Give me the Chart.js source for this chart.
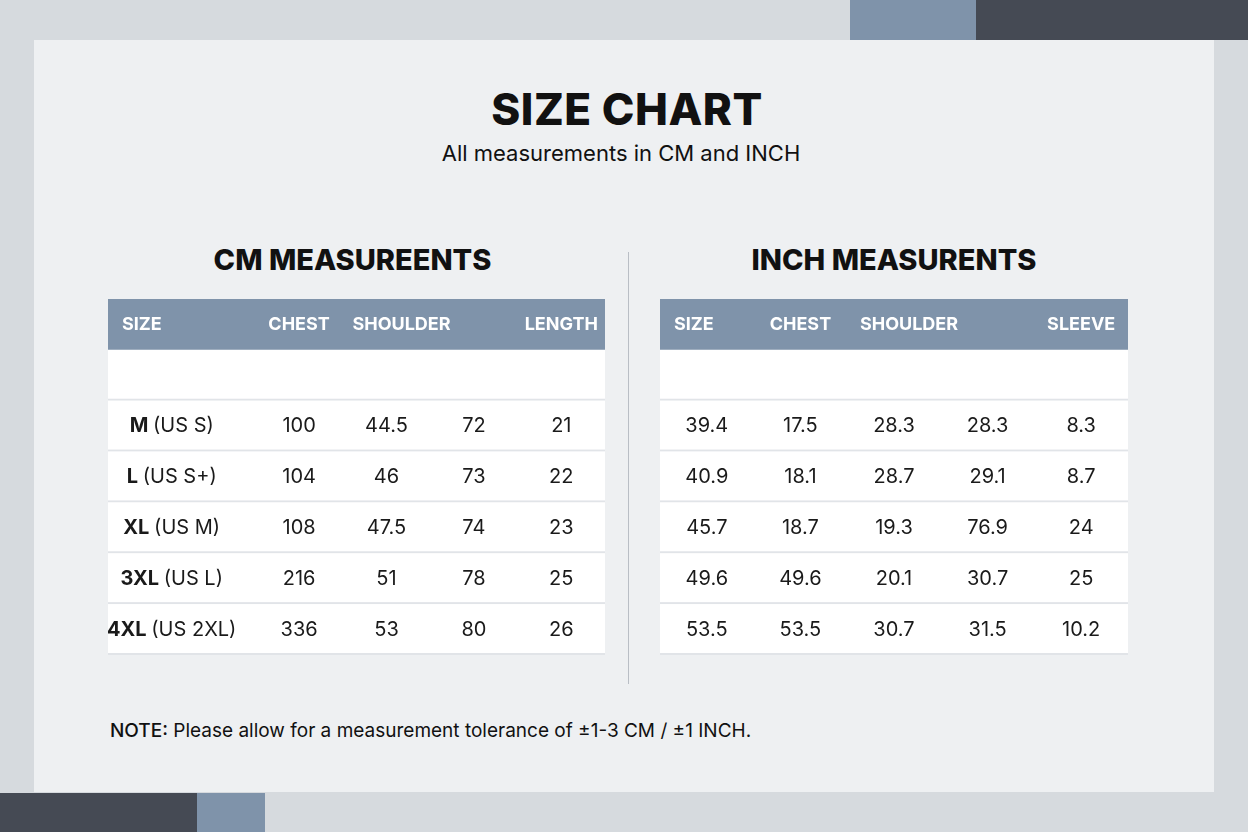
<!DOCTYPE html>
<html><head><meta charset="utf-8">
<script src="https://cdn.jsdelivr.net/npm/chart.js@4"></script>
<style>
body{margin:0;width:1248px;height:832px;background:#d6dade;position:relative;overflow:hidden;font-family:Inter,"Noto Sans",sans-serif;color:#111}
.abs{position:absolute}
#panel{left:34px;top:40px;width:1180px;height:752px;background:#eef0f2}
h1{position:absolute;left:0;width:1254px;top:82px;margin:0;text-align:center;font-size:44px;font-weight:800;letter-spacing:0.5px}
.sub{left:0;width:1242px;top:140px;text-align:center;font-size:22px}
.tt{font-size:29px;font-weight:800;text-align:center;top:242px}
.note{left:110px;top:719px;font-size:19px}
canvas{position:absolute}
</style></head><body>
<div class="abs" style="left:850px;top:0;width:126px;height:40px;background:#7f93aa"></div>
<div class="abs" style="left:976px;top:0;width:272px;height:40px;background:#454a54"></div>
<div class="abs" style="left:0;top:793px;width:197px;height:39px;background:#454a54"></div>
<div class="abs" style="left:197px;top:793px;width:68px;height:39px;background:#7f93aa"></div>
<div id="panel" class="abs"></div>
<h1>SIZE CHART</h1>
<div class="abs sub">All measurements in CM and INCH</div>
<div class="abs tt" style="left:104px;width:497px">CM MEASUREENTS</div>
<div class="abs tt" style="left:660px;width:468px">INCH MEASURENTS</div>
<div class="abs" style="left:628px;top:252px;width:1px;height:432px;background:#b9bec5"></div>
<div class="abs note"><b style="font-weight:500">NOTE:</b> Please allow for a measurement tolerance of ±1-3 CM / ±1 INCH.</div>
<canvas id="cm" width="497" height="356" style="left:108px;top:299px"></canvas>
<canvas id="inch" width="468" height="356" style="left:660px;top:299px"></canvas>
<script>
const rowKeys = ['header','blank','M','L','XL','3XL','4XL'];
const sizeBold = ['M','L','XL','3XL','4XL'];
const sizeUS = ['(US S)','(US S+)','(US M)','(US L)','(US 2XL)'];
const cmHeaders = ['SIZE','CHEST','SHOULDER','','LENGTH'];
const cmChest = ['100','104','108','216','336'];
const cmShoulder = ['44.5','46','47.5','51','53'];
const cmCol4 = ['72','73','74','78','80'];
const cmLength = ['21','22','23','25','26'];
const inHeaders = ['SIZE','CHEST','SHOULDER','','SLEEVE'];
const inCol1 = ['39.4','40.9','45.7','49.6','53.5'];
const inChest = ['17.5','18.1','18.7','49.6','53.5'];
const inShoulder = ['28.3','28.7','19.3','20.1','30.7'];
const inCol4 = ['28.3','29.1','76.9','30.7','31.5'];
const inSleeve = ['8.3','8.7','24','25','10.2'];

const FONT = 'Inter, "Noto Sans", sans-serif';
function tablePlugin(headers, cols, sizeCol){
  return {id:'tbl', afterDraw(chart){
    const c=chart.ctx, x=chart.scales.x, y=chart.scales.y, W=chart.width;
    const bh=(y.getPixelForValue(1)-y.getPixelForValue(0));
    c.save();
    for(let r=0;r<rowKeys.length;r++){
      const cy=y.getPixelForValue(r), top=cy-bh/2;
      c.fillStyle = r===0 ? '#7f93aa' : '#ffffff';
      c.fillRect(0, top, W, bh);
      if(r>0){c.fillStyle='#e1e4e8';c.fillRect(0, top+bh-2, W, 2);}
    }
    c.textBaseline='middle';
    const hy=y.getPixelForValue(0);
    c.font='700 18px '+FONT; c.fillStyle='#ffffff';
    headers.forEach((h,i)=>{
      if(!h) return;
      let px=x.getPixelForValue(i);
      if(i===0){c.textAlign='left';c.fillText(h,14,hy);}
      else{c.textAlign='center';c.fillText(h,px+(i===2?15:0),hy);}
    });
    c.fillStyle='#1a1a1a';
    for(let r=0;r<5;r++){
      const cy=y.getPixelForValue(r+2);
      cols.forEach((col,i)=>{
        const px=x.getPixelForValue(i);
        if(sizeCol && i===0){
          c.font='700 20px '+FONT; const w1=c.measureText(sizeBold[r]+' ').width;
          c.font='400 20px '+FONT; const w2=c.measureText(sizeUS[r]).width;
          let sx=px-40-(w1+w2)/2;
          c.textAlign='left';
          c.font='700 20px '+FONT; c.fillText(sizeBold[r]+' ',sx,cy);
          c.font='400 20px '+FONT; c.fillText(sizeUS[r],sx+w1,cy);
        } else {
          c.font='400 20px '+FONT; c.textAlign='center'; c.fillText(col[r],px,cy);
        }
      });
    }
    c.restore();
  }};
}
function make(id, headers, cols, sizeCol, padLeft){
  new Chart(document.getElementById(id),{
    type:'line',
    data:{labels:headers.map((h,i)=>'c'+i),datasets:[]},
    options:{responsive:false,animation:false,devicePixelRatio:1,
      layout:{padding:{left:padLeft,right:0,top:0,bottom:0}},
      plugins:{legend:{display:false},tooltip:{enabled:false}},
      scales:{x:{type:'category',offset:true,display:false},
              y:{type:'category',labels:rowKeys,offset:true,display:false}}},
    plugins:[tablePlugin(headers, cols, sizeCol)]
  });
}
make('cm', cmHeaders, [sizeBold, cmChest, cmShoulder, cmCol4, cmLength], true, 60);
make('inch', inHeaders, [inCol1, inChest, inShoulder, inCol4, inSleeve], false, 0);
</script>
</body></html>
